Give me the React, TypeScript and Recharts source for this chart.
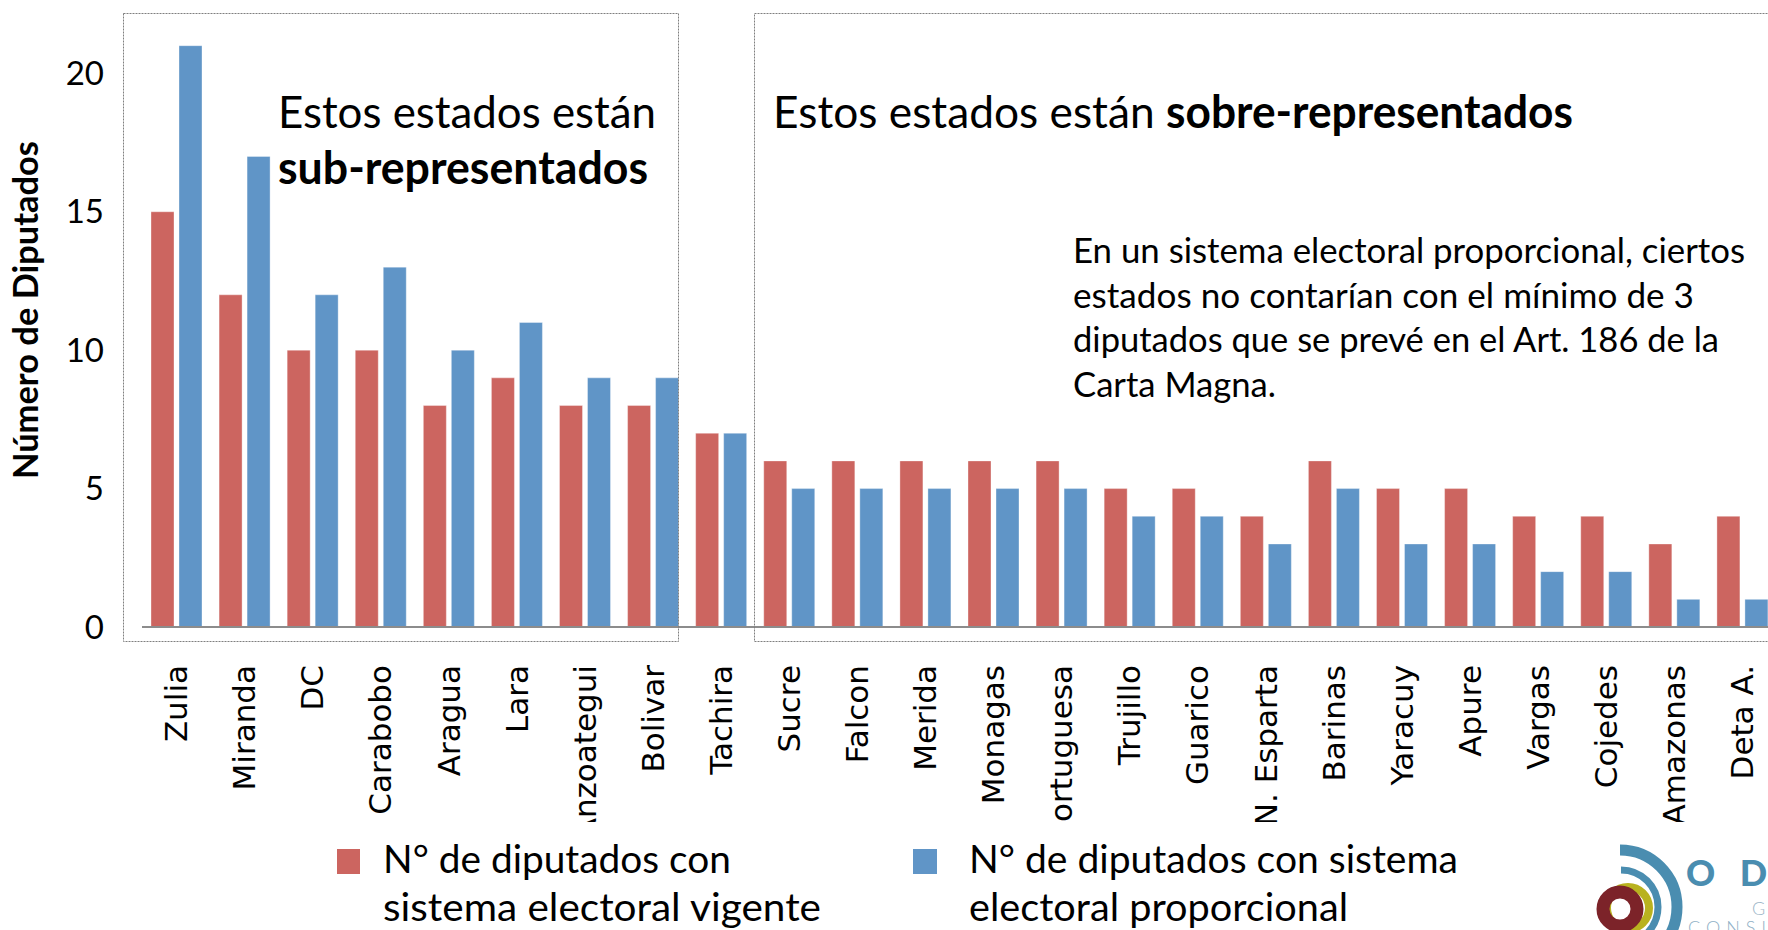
import { BarChart, Bar, XAxis, YAxis } from 'recharts'

const estados = [
  'Zulia', 'Miranda', 'DC', 'Carabobo', 'Aragua', 'Lara', 'Anzoategui', 'Bolivar',
  'Tachira', 'Sucre', 'Falcon', 'Merida', 'Monagas', 'Portuguesa', 'Trujillo', 'Guarico',
  'N. Esparta', 'Barinas', 'Yaracuy', 'Apure', 'Vargas', 'Cojedes', 'Amazonas', 'Deta A.',
]
const vigente = [15, 12, 10, 10, 8, 9, 8, 8, 7, 6, 6, 6, 6, 6, 5, 5, 4, 6, 5, 5, 4, 4, 3, 4]
const proporcional = [21, 17, 12, 13, 10, 11, 9, 9, 7, 5, 5, 5, 5, 5, 4, 4, 3, 5, 3, 3, 2, 2, 1, 1]
const yTicks = [0, 5, 10, 15, 20]

const serieVigente = ['N° de diputados con', 'sistema electoral  vigente']
const serieProporcional = ['N° de diputados con sistema', 'electoral proporcional']
const notaLineas = [
  'En un sistema electoral proporcional, ciertos',
  'estados no contarían con  el mínimo de 3',
  'diputados que se prevé en el Art. 186 de la',
  'Carta Magna.',
]
// anchos medidos en la imagen
const notaAnchos = [672, 621, 646, 203]
const vigenteAnchos = [348, 438]
const proporcionalAnchos = [489, 379]

const RED = '#CC6560'
const BLUE = '#6095C7'
const SANS = 'Lato, "Open Sans", sans-serif'

const data = estados.map((estado, i) => ({
  estado,
  vigente: vigente[i],
  proporcional: proporcional[i],
}))

function EstadoTick({ x, y, payload, index }: any) {
  const id = `clip-tick-${index}`
  return (
    <g>
      <defs>
        <clipPath id={id}>
          <rect x={x - 34} y={y - 4} width={68} height={826 - y} />
        </clipPath>
      </defs>
      <g clipPath={`url(#${id})`}>
        <text
          x={x}
          y={y}
          dy="0.36em"
          transform={`rotate(-90, ${x}, ${y})`}
          textAnchor="end"
          fontFamily='"DejaVu Sans", sans-serif'
          fontSize={31}
          fill="#000"
        >
          {payload.value}
        </text>
      </g>
    </g>
  )
}

function Logo() {
  return (
    <g>
      <path d="M 1620 850 A 57 57 0 0 1 1620 964" fill="none" stroke="#4A8DB0" strokeWidth={11} />
      <path d="M 1621 870 A 37 37 0 0 1 1621 944" fill="none" stroke="#4A8DB0" strokeWidth={7} />
      <circle cx={1628} cy={908} r={21} fill="none" stroke="#B9B21F" strokeWidth={8} />
      <circle cx={1620} cy={909} r={17} fill="none" stroke="#7C2329" strokeWidth={13} />
      <text x={1686} y={886} fontFamily={SANS} fontWeight={900} fontSize={36} fill="#4A8DB0" letterSpacing={8}>
        O D
      </text>
      <text x={1752} y={915} fontFamily={SANS} fontWeight={300} fontSize={18} fill="#9DB6C8">
        G
      </text>
      <text x={1688} y={934} fontFamily={SANS} fontWeight={300} fontSize={18} fill="#8FB0C6" letterSpacing={6}>
        CONSU
      </text>
    </g>
  )
}

export default function App() {
  return (
    <div
      style={{
        position: 'absolute',
        left: 0,
        top: 0,
        width: 1768,
        height: 930,
        overflow: 'hidden',
        background: '#fff',
      }}
    >
      <BarChart
        width={1780}
        height={830}
        data={data}
        margin={{ top: 18, right: 4, left: 0, bottom: 0 }}
        barCategoryGap={9}
        barGap={5}
      >
        <XAxis
          dataKey="estado"
          interval={0}
          height={203}
          tickLine={false}
          tickSize={0}
          tickMargin={38}
          axisLine={{ stroke: '#8C8C8C', strokeWidth: 2 }}
          tick={<EstadoTick />}
        />
        <YAxis
          width={142}
          domain={[0, 22]}
          ticks={yTicks}
          axisLine={false}
          tickLine={false}
          tickSize={0}
          tickMargin={38}
          tick={{ fontFamily: SANS, fontSize: 33, fill: '#000' }}
        />
        <Bar dataKey="vigente" fill={RED} stroke="#fff" strokeOpacity={0.35} isAnimationActive={false} />
        <Bar dataKey="proporcional" fill={BLUE} stroke="#fff" strokeOpacity={0.35} isAnimationActive={false} />
      </BarChart>

      <svg
        width={1768}
        height={930}
        style={{ position: 'absolute', left: 0, top: 0, pointerEvents: 'none', whiteSpace: 'pre' }}
      >
        {/* recuadros punteados */}
        <rect x={123.5} y={13.5} width={555} height={628} fill="none" stroke="#7F7F7F" strokeWidth={1} strokeDasharray="2 1" />
        <rect x={754.5} y={13.5} width={1100} height={628} fill="none" stroke="#7F7F7F" strokeWidth={1} strokeDasharray="2 1" />

        <text
          x={38}
          y={310}
          transform="rotate(-90, 38, 310)"
          textAnchor="middle"
          fontFamily={SANS}
          fontWeight={700}
          fontSize={34}
          fill="#000"
          textLength={338}
          lengthAdjust="spacingAndGlyphs"
        >
          Número de Diputados
        </text>

        <text x={278} y={128} fontFamily={SANS} fontSize={45} fill="#000" textLength={378} lengthAdjust="spacingAndGlyphs">
          Estos estados están
        </text>
        <text x={278} y={184} fontFamily={SANS} fontWeight={700} fontSize={45} fill="#000" textLength={370} lengthAdjust="spacingAndGlyphs">
          sub-representados
        </text>
        <text x={773} y={128} fontFamily={SANS} fontSize={45} fill="#000" textLength={800} lengthAdjust="spacingAndGlyphs">
          Estos estados están <tspan fontWeight={700}>sobre-representados</tspan>
        </text>

        {notaLineas.map((linea, i) => (
          <text
            key={i}
            x={1073}
            y={263 + i * 44.7}
            fontFamily={SANS}
            fontSize={34}
            fill="#000"
            textLength={notaAnchos[i]}
            lengthAdjust="spacingAndGlyphs"
          >
            {linea}
          </text>
        ))}

        {/* leyenda */}
        <rect x={337} y={849} width={23} height={25} fill={RED} />
        {serieVigente.map((t, i) => (
          <text
            key={i}
            x={383}
            y={873 + i * 48}
            fontFamily={SANS}
            fontSize={38}
            fill="#000"
            textLength={vigenteAnchos[i]}
            lengthAdjust="spacingAndGlyphs"
          >
            {t}
          </text>
        ))}
        <rect x={913} y={849} width={24} height={25} fill={BLUE} />
        {serieProporcional.map((t, i) => (
          <text
            key={i}
            x={969}
            y={873 + i * 48}
            fontFamily={SANS}
            fontSize={38}
            fill="#000"
            textLength={proporcionalAnchos[i]}
            lengthAdjust="spacingAndGlyphs"
          >
            {t}
          </text>
        ))}

        <Logo />
      </svg>
    </div>
  )
}
